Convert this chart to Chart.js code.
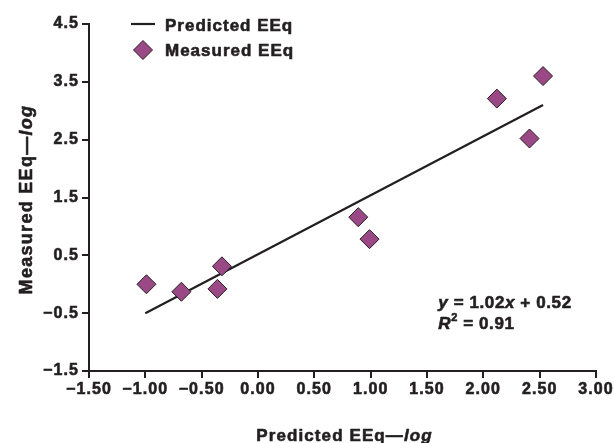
<!DOCTYPE html>
<html>
<head>
<meta charset="utf-8">
<script src="https://cdn.jsdelivr.net/npm/chart.js@4/dist/chart.umd.min.js"></script>
<style>
  html, body { margin: 0; padding: 0; background: #fff; }
  #wrap { width: 615px; height: 443px; position: relative; }
</style>
</head>
<body>
<div id="wrap"><canvas id="eeqChart"></canvas></div>
<script>
// Measured vs predicted EEq (log scale values)

const measuredX = [-0.99, -0.68, -0.36, -0.32, 0.89, 0.99, 2.12, 2.41, 2.53];
const measuredY = [0.00, -0.13, -0.08, 0.31, 1.16, 0.78, 3.21, 2.52, 3.60];
const predictedX = [-1.00, 2.53];
const predictedY = [-0.50, 3.10];
const xTicks = [-1.5, -1.0, -0.5, 0.0, 0.5, 1.0, 1.5, 2.0, 2.5, 3.0];
const yTicks = [-1.5, -0.5, 0.5, 1.5, 2.5, 3.5, 4.5];
const legendLabels = ['Predicted EEq', 'Measured EEq'];
const eqSlope = '1.02';
const eqIntercept = '0.52';
const eqR2 = '0.91';

const ink = '#231f20';
const purple = '#9a4886';
const family = '"Liberation Sans", Arial, Helvetica, sans-serif';
const stroke = 0.6; // thickens the bold text a little

const signed = (v, d) => (v < 0 ? '\u2212' : '') + Math.abs(v).toFixed(d);

// draws a row of text pieces (some italic / superscript) one after another
function drawRuns(ctx, runs, x, y, size, spacing, align) {
    ctx.save();
    ctx.fillStyle = ink;
    ctx.strokeStyle = ink;
    ctx.lineWidth = stroke;
    ctx.lineJoin = 'round';
    ctx.textAlign = 'left';
    ctx.textBaseline = 'alphabetic';
    ctx.letterSpacing = spacing + 'px';
    const fontOf = r => (r.italic ? 'italic ' : '') + 'bold ' + (r.sup ? Math.round(size * 0.65) : size) + 'px ' + family;
    let total = 0;
    runs.forEach(r => {
        ctx.font = fontOf(r);
        r.w = ctx.measureText(r.text).width;
        total += r.w;
    });
    let cx = align === 'center' ? x - total / 2 : x;
    runs.forEach(r => {
        ctx.font = fontOf(r);
        const ty = r.sup ? y - size * 0.45 : y;
        ctx.fillText(r.text, cx, ty);
        ctx.strokeText(r.text, cx, ty);
        cx += r.w;
    });
    ctx.restore();
}

const extrasPlugin = {
    id: 'extras',
    beforeDraw(chart) {
        chart.ctx.letterSpacing = '1.1px';
    },
    afterDraw(chart) {
        const ctx = chart.ctx;
        const area = chart.chartArea;
        const xs = chart.scales.x;
        const ys = chart.scales.y;

        // axis titles
        drawRuns(ctx, [{ text: 'Predicted EEq\u2014' }, { text: 'log', italic: true }],
            (area.left + area.right) / 2 + 2, area.bottom + 70, 17, 1.1, 'center');
        ctx.save();
        ctx.translate(area.left - 57, (area.top + area.bottom) / 2 + 2);
        ctx.rotate(-Math.PI / 2);
        drawRuns(ctx, [{ text: 'Measured EEq\u2014' }, { text: 'log', italic: true }],
            0, 0, 18, 1.3, 'center');
        ctx.restore();

        // legend
        const lx = area.left + 42;
        const ly = area.top;
        ctx.save();
        ctx.strokeStyle = ink;
        ctx.lineWidth = 2.2;
        ctx.beginPath();
        ctx.moveTo(lx, ly);
        ctx.lineTo(lx + 24, ly);
        ctx.stroke();
        const dx = lx + 12, dy = ly + 26, r = 9.5;
        ctx.beginPath();
        ctx.moveTo(dx, dy - r);
        ctx.lineTo(dx + r, dy);
        ctx.lineTo(dx, dy + r);
        ctx.lineTo(dx - r, dy);
        ctx.closePath();
        ctx.fillStyle = purple;
        ctx.fill();
        ctx.lineWidth = 1;
        ctx.stroke();
        ctx.restore();
        drawRuns(ctx, [{ text: legendLabels[0] }], lx + 34, ly + 7, 17, 1.0, 'left');
        drawRuns(ctx, [{ text: legendLabels[1] }], lx + 34, ly + 32, 17, 1.0, 'left');

        // regression equation
        const ex = xs.getPixelForValue(1.6);
        const ey = ys.getPixelForValue(-0.41);
        drawRuns(ctx, [
            { text: 'y', italic: true }, { text: ' = ' + eqSlope },
            { text: 'x', italic: true }, { text: ' + ' + eqIntercept }
        ], ex, ey, 17, 0.6, 'left');
        drawRuns(ctx, [
            { text: 'R', italic: true }, { text: '2', sup: true }, { text: ' = ' + eqR2 }
        ], ex, ey + 21, 17, 0.6, 'left');
    }
};

const tickFont = { family: family, size: 16, weight: 'bold' };

const ctx = document.getElementById('eeqChart').getContext('2d');
const eeqChart = new Chart(ctx, {
    type: 'scatter',
    data: {
        datasets: [
            {
                label: legendLabels[1],
                data: measuredX.map((x, i) => ({ x: x, y: measuredY[i] })),
                pointStyle: 'rectRot',
                pointRadius: 9.5,
                backgroundColor: purple,
                borderColor: ink,
                borderWidth: 1,
                order: 0
            },
            {
                type: 'line',
                label: legendLabels[0],
                data: predictedX.map((x, i) => ({ x: x, y: predictedY[i] })),
                borderColor: ink,
                borderWidth: 2.2,
                pointRadius: 0,
                fill: false,
                tension: 0,
                order: 1
            }
        ]
    },
    options: {
        responsive: true,
        maintainAspectRatio: false,
        animation: false,
        layout: {
            padding: { top: 24, right: 19, left: 0, bottom: 0 }
        },
        plugins: {
            legend: { display: false },
            tooltip: { enabled: false }
        },
        scales: {
            x: {
                type: 'linear',
                min: -1.5,
                max: 3.0,
                afterBuildTicks: axis => { axis.ticks = xTicks.map(v => ({ value: v })); },
                afterFit: axis => { axis.height = 72; },
                grid: {
                    drawOnChartArea: false,
                    drawTicks: true,
                    tickLength: 7,
                    color: ink,
                    lineWidth: 2
                },
                border: { display: true, color: ink, width: 2 },
                ticks: {
                    color: ink,
                    textStrokeColor: ink,
                    textStrokeWidth: stroke,
                    padding: 2,
                    maxRotation: 0,
                    autoSkip: false,
                    font: tickFont,
                    callback: v => signed(v, 2)
                }
            },
            y: {
                type: 'linear',
                min: -1.5,
                max: 4.5,
                afterBuildTicks: axis => { axis.ticks = yTicks.map(v => ({ value: v })); },
                afterFit: axis => { axis.width = 89; },
                grid: {
                    drawOnChartArea: false,
                    drawTicks: true,
                    tickLength: 7,
                    color: ink,
                    lineWidth: 2
                },
                border: { display: true, color: ink, width: 2 },
                ticks: {
                    color: ink,
                    textStrokeColor: ink,
                    textStrokeWidth: stroke,
                    padding: 3,
                    autoSkip: false,
                    font: tickFont,
                    callback: v => signed(v, 1)
                }
            }
        }
    },
    plugins: [extrasPlugin]
});
</script>
</body>
</html>
